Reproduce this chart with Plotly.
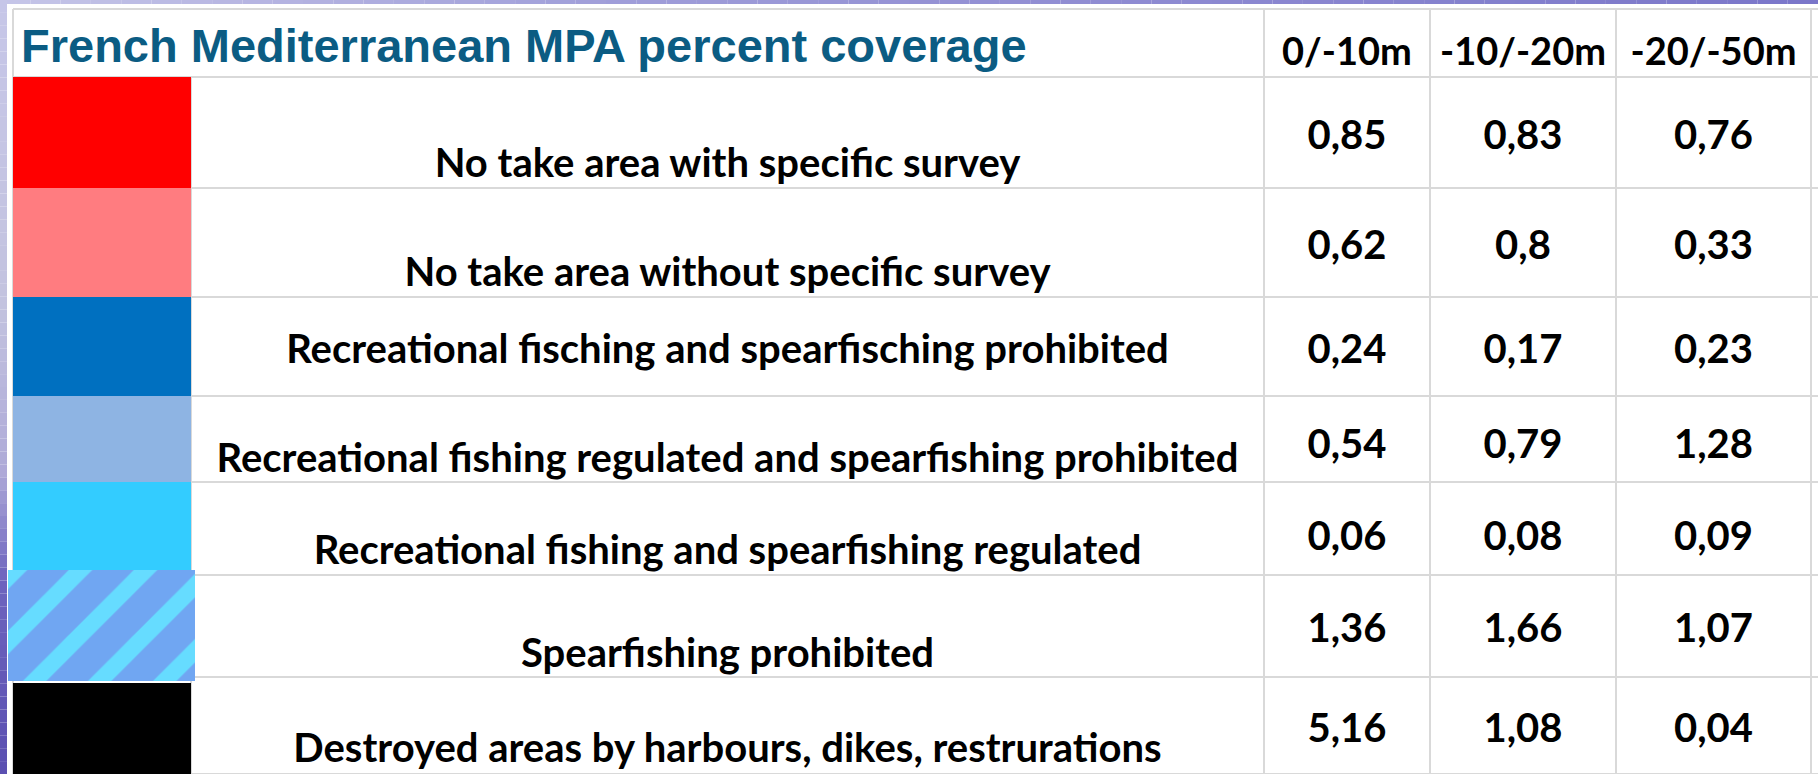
import plotly.graph_objects as go

# ---------------- data ----------------
TITLE = "French Mediterranean MPA percent coverage"
DEPTHS = ["0/-10m", "-10/-20m", "-20/-50m"]
CATEGORIES = [
    "No take area with specific survey",
    "No take area without specific survey",
    "Recreational fisching and spearfisching prohibited",
    "Recreational fishing regulated and spearfishing prohibited",
    "Recreational fishing and spearfishing regulated",
    "Spearfishing prohibited",
    "Destroyed areas by harbours, dikes, restrurations",
]
V_0_10 = [0.85, 0.62, 0.24, 0.54, 0.06, 1.36, 5.16]
V_10_20 = [0.83, 0.80, 0.17, 0.79, 0.08, 1.66, 1.08]
V_20_50 = [0.76, 0.33, 0.23, 1.28, 0.09, 1.07, 0.04]
SWATCH_COLORS = ["#ff0000", "#ff7c80", "#0070c0", "#8eb4e3", "#33ccff", "#70a6f2", "#000000"]
SWATCH_PATTERN = ["", "", "", "", "", "/", ""]
HATCH_COLOR = "#66dcff"

# ---------------- layout geometry (pixels) ----------------
W, H = 1818, 774
COL_EDGES = [13, 191, 1264, 1430, 1616, 1811]
ROW_EDGES = [9, 77, 188, 297, 396, 482, 575, 677, 774]
LABEL_Y = [167, 276, 353, 462, 554, 657, 752]
NUM_Y = [139, 249, 353, 448, 540, 632, 732]
HEADER_Y = 55
TITLE_X, TITLE_Y = 19, 45
GRID = "#d9d9d9"
TXT = "Lato, 'Open Sans', sans-serif"
TXT_SIZE = 40
HEAD_SIZE = 38


def fmt(v):
    s = ("%.2f" % v).rstrip("0").rstrip(".")
    return s.replace(".", ",")


def lerp_color(stops, t):
    for (t0, c0), (t1, c1) in zip(stops[:-1], stops[1:]):
        if t0 <= t <= t1:
            f = 0 if t1 == t0 else (t - t0) / (t1 - t0)
            a = [int(c0[i:i + 2], 16) for i in (1, 3, 5)]
            b = [int(c1[i:i + 2], 16) for i in (1, 3, 5)]
            return "#%02x%02x%02x" % tuple(round(a[k] + (b[k] - a[k]) * f) for k in range(3))
    return stops[-1][1]


shapes = []
# background frame (purple gradient strips)
top_stops = [(0, "#c6c6e8"), (600, "#a09ed9"), (1100, "#8f8cd2"), (1818, "#7a76c9")]
left_stops = [(0, "#c6c6e8"), (300, "#c3c3df"), (470, "#aeaad8"), (580, "#6e64be"), (774, "#5a4fb1")]
N = 60
for i in range(N):
    x0, x1 = W * i / N, W * (i + 1) / N
    shapes.append(dict(type="rect", xref="x", yref="y", x0=x0, x1=x1, y0=0, y1=4,
                       fillcolor=lerp_color(top_stops, (x0 + x1) / 2), line_width=0, layer="below"))
for i in range(N):
    y0, y1 = H * i / N, H * (i + 1) / N
    shapes.append(dict(type="rect", xref="x", yref="y", x0=0, x1=7, y0=y0, y1=y1,
                       fillcolor=lerp_color(left_stops, (y0 + y1) / 2), line_width=0, layer="below"))

# grid lines
for y in ROW_EDGES:
    shapes.append(dict(type="line", xref="x", yref="y", x0=COL_EDGES[0], x1=W, y0=y, y1=y,
                       line=dict(color=GRID, width=2), layer="below"))
for j, x in enumerate(COL_EDGES):
    y_start = ROW_EDGES[1] if j == 1 else ROW_EDGES[0]   # title cell is merged
    shapes.append(dict(type="line", xref="x", yref="y", x0=x, x1=x, y0=y_start, y1=H,
                       line=dict(color=GRID, width=2), layer="below"))

fig = go.Figure()

# colour swatches as bars (solid ones in one trace, hatched ones in their own traces)
n = len(CATEGORIES)
solid = {"x": [], "w": [], "b": [], "h": [], "c": []}
hatched = []
for i in range(n):
    x0, x1 = COL_EDGES[0], COL_EDGES[1]
    y0, y1 = ROW_EDGES[i + 1], ROW_EDGES[i + 2]
    if SWATCH_PATTERN[i]:
        x0, x1, y0, y1 = x0 - 5, x1 + 4, y0 - 5, y1 + 4
        hatched.append(((x0 + x1) / 2, x1 - x0, y0, y1 - y0, SWATCH_COLORS[i], SWATCH_PATTERN[i]))
        continue
    if i > 0 and SWATCH_PATTERN[i - 1]:
        y0 += 6
    solid["x"].append((x0 + x1) / 2)
    solid["w"].append(x1 - x0)
    solid["b"].append(y0)
    solid["h"].append(y1 - y0)
    solid["c"].append(SWATCH_COLORS[i])

fig.add_trace(go.Bar(
    x=solid["x"], y=solid["h"], base=solid["b"], width=solid["w"],
    marker=dict(color=solid["c"], line_width=0),
    hoverinfo="skip", showlegend=False,
))
for cx, w, b, h, col, pat in hatched:
    fig.add_trace(go.Bar(
        x=[cx], y=[h], base=[b], width=[w],
        marker=dict(color=col, line_width=0,
                    pattern=dict(shape=pat, fillmode="overlay", fgcolor=HATCH_COLOR,
                                 fgopacity=1, size=46, solidity=0.36)),
        hoverinfo="skip", showlegend=False,
    ))

label_x = (COL_EDGES[1] + COL_EDGES[2]) / 2
fig.add_trace(go.Scatter(
    x=[label_x] * n, y=LABEL_Y, mode="text",
    text=["<b>%s</b>" % c for c in CATEGORIES], textposition="middle center",
    textfont=dict(family=TXT, size=TXT_SIZE, color="#000000"),
    hoverinfo="skip", showlegend=False,
))

col_cx = [(COL_EDGES[k] + COL_EDGES[k + 1]) / 2 for k in range(2, 5)]
fig.add_trace(go.Scatter(
    x=col_cx, y=[HEADER_Y] * 3, mode="text",
    text=["<b>%s</b>" % d for d in DEPTHS], textposition="middle center",
    textfont=dict(family=TXT, size=HEAD_SIZE, color="#000000"),
    hoverinfo="skip", showlegend=False,
))
for cx, vals in zip(col_cx, [V_0_10, V_10_20, V_20_50]):
    fig.add_trace(go.Scatter(
        x=[cx] * len(vals), y=NUM_Y, mode="text",
        text=["<b>%s</b>" % fmt(v) for v in vals], textposition="middle center",
        textfont=dict(family=TXT, size=TXT_SIZE, color="#000000"),
        hoverinfo="skip", showlegend=False,
    ))

fig.add_annotation(x=TITLE_X, y=TITLE_Y, xref="x", yref="y", text="<b>%s</b>" % TITLE,
                   showarrow=False, xanchor="left", yanchor="middle",
                   font=dict(family="Arial, 'Liberation Sans', sans-serif", size=47, color="#0b5c83"))

fig.update_layout(
    width=W, height=H, autosize=False,
    margin=dict(l=0, r=0, t=0, b=0, pad=0),
    paper_bgcolor="#ffffff", plot_bgcolor="#ffffff",
    xaxis=dict(range=[0, W], visible=False, fixedrange=True),
    yaxis=dict(range=[H, 0], visible=False, fixedrange=True),
    shapes=shapes, bargap=0, barmode="overlay", hovermode=False,
)

fig.write_html("out.html", config=dict(displayModeBar=False),
               post_script="document.body.style.margin='0';document.body.style.overflow='hidden';")
